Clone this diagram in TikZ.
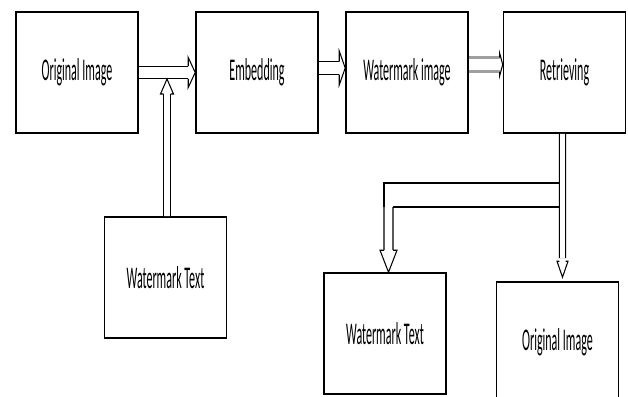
\documentclass[tikz,border=0pt]{standalone}
\usepackage{fontspec}
\setmainfont{Carlito}[FakeStretch=0.38]
\usetikzlibrary{arrows.meta,calc}
\tikzset{
  box/.style={draw, line width=0.9pt, minimum width=2.44cm, minimum height=2.42cm,
    inner sep=0pt, font=\fontsize{18}{20}\selectfont},
  pipe/.style={line width=0.8pt, double, double distance=6.3pt},
  thinpipe/.style={line width=0.6pt, double, double distance=3.3pt},
  pics/head/.style n args={3}{code={
    \fill[white] (-#3,-#1) -- (-#3,-#2) -- (0,0) -- (-#3,#2) -- (-#3,#1) -- cycle;
    \draw[line width=0.6pt] (-#3,-#1) -- (-#3,-#2) -- (0,0) -- (-#3,#2) -- (-#3,#1);
  }}
}
\begin{document}
\begin{tikzpicture}[x=0.02cm,y=-0.02cm]
\useasboundingbox (0,0) rectangle (628,396);
% top row
\node[box] (orig) at (77,72.5) {Original Image};
\node[box] (emb) at (257,72.5) {Embedding};
\node[box] (wmimg) at (407,72.5) {Watermark image};
\node[box] (retr) at (564.5,72.5) {Retrieving};
% bottom row
\node[box] (wmtext) at (165.5,277.5) {Watermark Text};
\node[box] (wmout) at (385,333.5) {Watermark Text};
\node[box] (origout) at (557.5,342.5) {Original Image};

\draw[pipe, shorten >=0.13cm] (orig.east) -- (emb.west);
\pic at (emb.west) {head={6.3}{15}{7}};
\draw[pipe, shorten >=0.1cm] ([yshift=0.09cm]emb.east) -- ([yshift=0.09cm]wmimg.west);
\pic at ([yshift=0.09cm]wmimg.west) {head={6.5}{17}{6}};
\draw[pipe, line width=1.6pt, draw=gray!75, shorten >=0.05cm] ([yshift=0.16cm]wmimg.east) -- ([yshift=0.16cm]retr.west);
\pic at ([yshift=0.16cm]retr.west) {head={7}{11}{3}};

% text goes in
\coordinate (join) at (167,79);
\draw[thinpipe, shorten >=0.3cm] ([xshift=0.03cm]wmtext.north) -- (join);
\pic[rotate=90] at (join) {head={3.5}{6.5}{15}};

% retrieving splits in two
\draw[thinpipe, double distance=2.8pt, shorten >=0.38cm] ([xshift=-0.04cm]retr.south) -- ([xshift=0.1cm,yshift=0.08cm]origout.north);
\pic[rotate=-90] at ([xshift=0.1cm,yshift=0.08cm]origout.north) {head={3.2}{5.5}{16}};
\coordinate (split) at (559,183);
\coordinate (splitlow) at (559,207);
\coordinate (bend) at (388.5,207);
\draw[thinpipe, double distance=4.5pt, shorten >=0.44cm] (bend) -- ([xshift=0.07cm]wmout.north);
\pic[rotate=-90] at ([xshift=0.07cm]wmout.north) {head={4.5}{8.5}{22}};
\draw[line width=0.6pt] (split) -| (384,207);
\draw[line width=0.6pt] (splitlow) -- (393,207);
\end{tikzpicture}
\end{document}
